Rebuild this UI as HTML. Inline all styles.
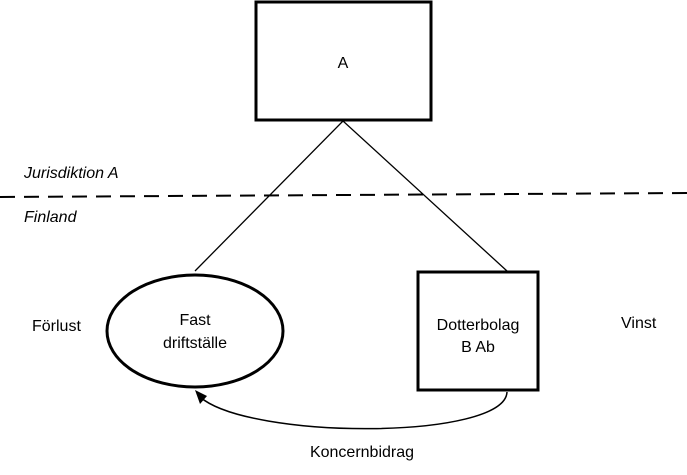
<!DOCTYPE html>
<html><head><style>body{margin:0;background:#fff}svg{display:block}</style></head><body>
<svg width="687" height="475" xmlns="http://www.w3.org/2000/svg" font-family="Liberation Sans, sans-serif" font-size="16">
<rect x="256" y="2" width="175" height="118" fill="none" stroke="#000" stroke-width="3"/>
<text x="343" y="68" text-anchor="middle">A</text>
<line x1="343" y1="121" x2="195" y2="271" stroke="#000" stroke-width="1.3"/>
<line x1="343" y1="121" x2="507" y2="271" stroke="#000" stroke-width="1.3"/>
<line x1="0" y1="197" x2="687" y2="193" stroke="#000" stroke-width="2" stroke-dasharray="15,9"/>
<text x="24" y="178" font-style="italic">Jurisdiktion A</text>
<text x="24" y="222" font-style="italic">Finland</text>
<ellipse cx="195" cy="331" rx="88" ry="56" fill="#fff" stroke="#000" stroke-width="3"/>
<text x="195" y="325" text-anchor="middle">Fast</text>
<text x="195" y="348" text-anchor="middle">driftställe</text>
<rect x="418" y="272" width="120" height="118" fill="#fff" stroke="#000" stroke-width="3"/>
<text x="478" y="330" text-anchor="middle">Dotterbolag</text>
<text x="478" y="352" text-anchor="middle">B Ab</text>
<text x="32" y="331">Förlust</text>
<text x="621" y="328">Vinst</text>
<path d="M507 392 C505 440 250 440 200 397" fill="none" stroke="#000" stroke-width="1.5"/>
<polygon points="195,390 207,396 200,404" fill="#000"/>
<text x="362" y="457" text-anchor="middle">Koncernbidrag</text>
</svg>
</body></html>
